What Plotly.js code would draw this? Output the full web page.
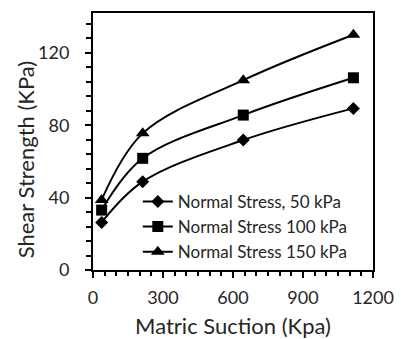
<!DOCTYPE html>
<html>
<head>
<meta charset="utf-8">
<script src="https://cdn.plot.ly/plotly-3.0.1.min.js"></script>
<style>html,body{margin:0;padding:0;background:#fff}#chart{width:401px;height:339px}</style>
</head>
<body>
<div id="chart"></div>
<script>
const suction = [37, 213, 644, 1116];
const stress50 = [26.3, 48.8, 71.8, 89.3];
const stress100 = [33.1, 61.7, 85.6, 106.2];
const stress150 = [38.7, 75.5, 104.9, 130.0];
const seriesNames = ["Normal Stress, 50 kPa", "Normal Stress 100 kPa", "Normal Stress 150 kPa"];
const xTicks = [0, 300, 600, 900, 1200];
const yTicks = [0, 40, 80, 120];
const xTitle = "Matric Suction (Kpa)";
const yTitle = "Shear Strength (KPa)";

const FONT = "Lato, 'Open Sans', sans-serif";
const TXT = "#262626";
const symbols = ["diamond", "square", "triangle-up"];
const sizes = [10, 11, 12];
const data = [stress50, stress100, stress150].map((ys, i) => ({
  x: suction, y: ys, name: seriesNames[i], type: "scatter", mode: "lines+markers",
  line: {color: "#000", width: 2, shape: "spline", smoothing: 1},
  marker: {symbol: symbols[i], size: sizes[i], color: "#000"}
}));

const layout = {
  width: 401, height: 339,
  margin: {l: 93, r: 28, t: 13, b: 69},
  paper_bgcolor: "#fff", plot_bgcolor: "#fff",
  font: {family: FONT, color: TXT},
  showlegend: true,
  legend: {x: 0.16, y: 0.335, xanchor: "left", yanchor: "top", bgcolor: "rgba(0,0,0,0)",
           font: {family: FONT, size: 17, color: TXT}, tracegroupgap: 0, itemwidth: 30},
  xaxis: {
    range: [0, 1200], tickvals: xTicks, ticktext: xTicks.map(String),
    showgrid: false, zeroline: false, showline: true, linecolor: "#000", linewidth: 2, mirror: true,
    ticks: "outside", ticklen: 6, tickwidth: 2, tickcolor: "#000",
    minor: {dtick: 50, ticks: "outside", ticklen: 4, tickwidth: 2, tickcolor: "#000"},
    tickfont: {family: FONT, size: 18, color: TXT}, ticklabelstandoff: 4,
    title: {text: xTitle, font: {family: FONT, size: 22, color: TXT}, standoff: 15}
  },
  yaxis: {
    range: [0, 142], tickvals: yTicks, ticktext: yTicks.map(String),
    showgrid: false, zeroline: false, showline: true, linecolor: "#000", linewidth: 2, mirror: true,
    ticks: "outside", ticklen: 6, tickwidth: 2, tickcolor: "#000",
    minor: {dtick: 8, ticks: "outside", ticklen: 5, tickwidth: 2, tickcolor: "#000"},
    tickfont: {family: FONT, size: 18, color: TXT}, ticklabelstandoff: 12,
    title: {text: ""}
  },
  annotations: [{
    text: yTitle, xref: "paper", yref: "paper", x: -0.24, y: 0.43,
    xanchor: "center", yanchor: "middle", textangle: -90, showarrow: false,
    font: {family: FONT, size: 22, color: TXT}
  }]
};
Plotly.newPlot("chart", data, layout, {displayModeBar: false, staticPlot: true});
</script>
</body>
</html>
